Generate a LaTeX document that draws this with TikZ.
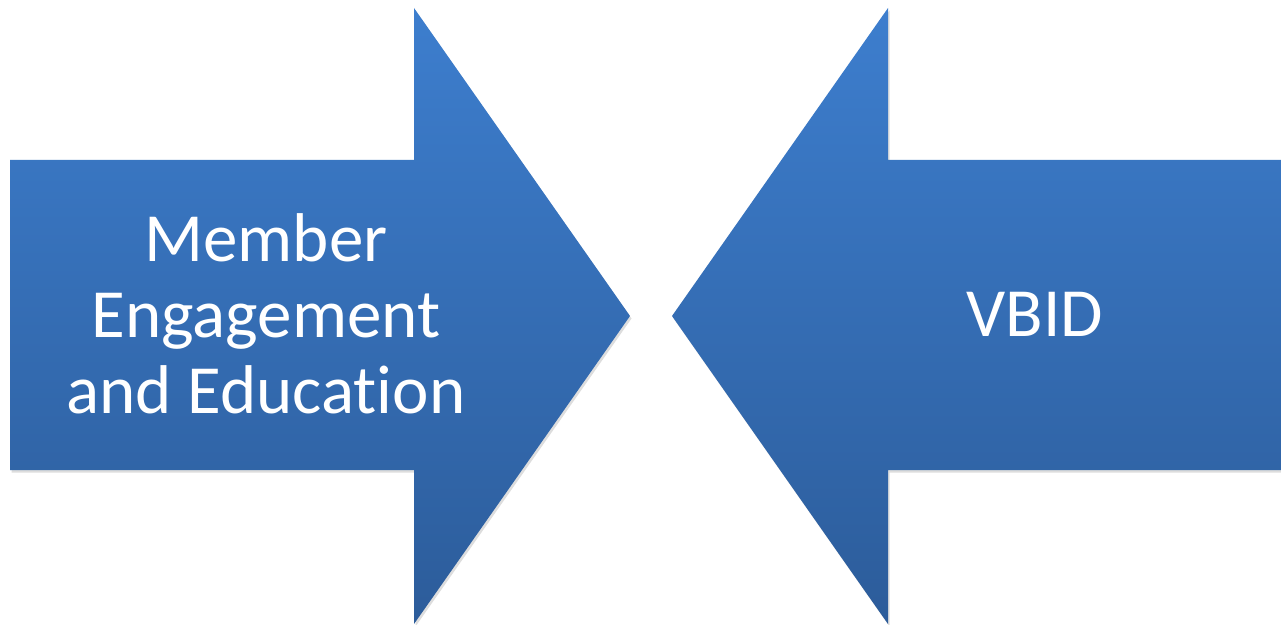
\documentclass[tikz,border=0pt]{standalone}
\usepackage{fontspec}
\setmainfont[Ligatures={NoCommon}]{Carlito}
\usetikzlibrary{shadows,fadings}
\definecolor{arrowtop}{RGB}{61,126,206}
\definecolor{arrowbot}{RGB}{44,92,154}
\tikzset{
  bigarrow/.style={top color=arrowtop, bottom color=arrowbot, draw=none,
    drop shadow={shadow xshift=1.5pt, shadow yshift=-2.5pt, opacity=0.22, fill=black!60}},
  arrowtext/.style={text=white, align=center, font=\fontsize{69}{76}\selectfont, inner sep=0pt}
}
\begin{document}
\begin{tikzpicture}[x=1pt,y=1pt]
\useasboundingbox (0,0) rectangle (1281,624);
% left arrow (points right)
\path[bigarrow] (10,464) -- (414,464) -- (414,616) -- (630,308) -- (414,0) -- (414,154) -- (10,154) -- cycle;
% right arrow (points left)
\path[bigarrow] (1281,464) -- (888,464) -- (888,616) -- (672,308) -- (888,0) -- (888,154) -- (1281,154) -- cycle;
\node[arrowtext] (left) at (266,310) {Member\\Engagement\\and Education};
\node[arrowtext] (right) at (1035,310) {VBID};
\end{tikzpicture}
\end{document}
